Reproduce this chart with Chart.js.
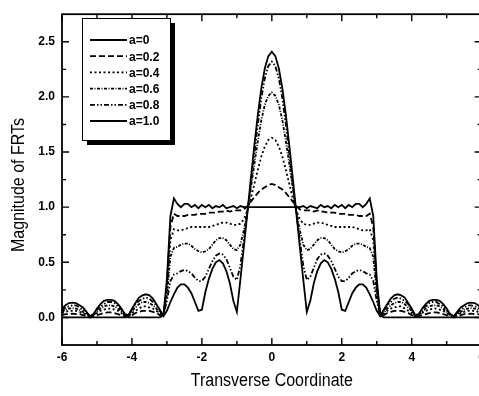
<!DOCTYPE html>
<html>
<head>
<meta charset="utf-8">
<script src="https://cdn.jsdelivr.net/npm/chart.js@4.4.0/dist/chart.umd.min.js"></script>
<style>
    html, body { margin: 0; padding: 0; background: #fff; overflow: hidden; }
    #wrap { position: absolute; left: 0; top: 0; width: 490px; height: 396px; }
</style>
</head>
<body>
<div id="wrap"><canvas id="myChart" width="490" height="396"></canvas></div>
<script>
// transverse coordinate samples
const xs = [
    -6.0, -5.9, -5.8, -5.7, -5.6, -5.5, -5.4, -5.3, -5.2, -5.1,
    -5.0, -4.9, -4.8, -4.7, -4.6, -4.5, -4.4, -4.3, -4.2, -4.1,
    -4.0, -3.9, -3.8, -3.7, -3.6, -3.5, -3.4, -3.3, -3.2, -3.1,
    -3.0, -2.9, -2.8, -2.7, -2.6, -2.5, -2.4, -2.3, -2.2, -2.1,
    -2.0, -1.9, -1.8, -1.7, -1.6, -1.5, -1.4, -1.3, -1.2, -1.1,
    -1.0, -0.9, -0.8, -0.7, -0.6, -0.5, -0.4, -0.3, -0.2, -0.1,
    0.0,
    0.1, 0.2, 0.3, 0.4, 0.5, 0.6, 0.7, 0.8, 0.9, 1.0,
    1.1, 1.2, 1.3, 1.4, 1.5, 1.6, 1.7, 1.8, 1.9, 2.0,
    2.1, 2.2, 2.3, 2.4, 2.5, 2.6, 2.7, 2.8, 2.9, 3.0,
    3.1, 3.2, 3.3, 3.4, 3.5, 3.6, 3.7, 3.8, 3.9, 4.0,
    4.1, 4.2, 4.3, 4.4, 4.5, 4.6, 4.7, 4.8, 4.9, 5.0,
    5.1, 5.2, 5.3, 5.4, 5.5, 5.6, 5.7, 5.8, 5.9, 6.0
];

const a00 = [
    0, 0, 0, 0, 0, 0, 0, 0, 0, 0,
    0, 0, 0, 0, 0, 0, 0, 0, 0, 0,
    0, 0, 0, 0, 0, 0, 0, 0, 0, 0.02,
    0.35, 0.92, 1.08, 1.03, 1.00, 1.03, 1.03, 1.00, 1.02, 0.99,
    1.02, 1.00, 1.02, 0.99, 1.01, 1.00, 1.02, 0.99, 1.00, 1.01,
    0.99, 1.01, 1.00, 1, 1, 1, 1, 1, 1, 1,
    1,
    1, 1, 1, 1, 1, 1, 1, 1.00, 1.01, 0.99,
    1.01, 1.00, 0.99, 1.02, 1.00, 1.01, 0.99, 1.02, 1.00, 1.02,
    0.99, 1.02, 1.00, 1.03, 1.03, 1.00, 1.03, 1.08, 0.92, 0.35,
    0.02, 0, 0, 0, 0, 0, 0, 0, 0, 0,
    0, 0, 0, 0, 0, 0, 0, 0, 0, 0,
    0, 0, 0, 0, 0, 0, 0, 0, 0, 0
];

const a02 = [
    0.02, 0.03, 0.03, 0.035, 0.03, 0.03, 0.02, 0.01, 0.00, 0.01,
    0.02, 0.03, 0.04, 0.045, 0.045, 0.04, 0.03, 0.02, 0.01, 0.01,
    0.02, 0.04, 0.05, 0.06, 0.06, 0.06, 0.05, 0.04, 0.02, 0.03,
    0.30, 0.82, 0.94, 0.92, 0.92, 0.92, 0.93, 0.93, 0.93, 0.94,
    0.94, 0.94, 0.95, 0.95, 0.95, 0.96, 0.96, 0.97, 0.96, 0.97,
    0.97, 0.97, 0.98, 1.01, 1.05, 1.09, 1.13, 1.16, 1.18, 1.20,
    1.21,
    1.20, 1.18, 1.16, 1.13, 1.09, 1.05, 1.01, 0.98, 0.97, 0.97,
    0.97, 0.96, 0.97, 0.96, 0.96, 0.95, 0.95, 0.95, 0.94, 0.94,
    0.94, 0.93, 0.93, 0.93, 0.92, 0.92, 0.92, 0.94, 0.82, 0.30,
    0.03, 0.02, 0.04, 0.05, 0.06, 0.06, 0.06, 0.05, 0.04, 0.02,
    0.01, 0.01, 0.02, 0.03, 0.04, 0.045, 0.045, 0.04, 0.03, 0.02,
    0.01, 0.00, 0.01, 0.02, 0.03, 0.03, 0.035, 0.03, 0.03, 0.02
];

const a04 = [
    0.04, 0.05, 0.06, 0.06, 0.06, 0.05, 0.04, 0.02, 0.01, 0.02,
    0.04, 0.06, 0.07, 0.08, 0.08, 0.07, 0.06, 0.04, 0.02, 0.01,
    0.04, 0.06, 0.08, 0.10, 0.10, 0.09, 0.08, 0.06, 0.03, 0.02,
    0.25, 0.70, 0.80, 0.79, 0.79, 0.80, 0.81, 0.82, 0.82, 0.82,
    0.82, 0.82, 0.82, 0.83, 0.84, 0.85, 0.86, 0.86, 0.85, 0.84,
    0.84, 0.85, 0.89, 0.97, 1.08, 1.21, 1.34, 1.46, 1.55, 1.61,
    1.63,
    1.61, 1.55, 1.46, 1.34, 1.21, 1.08, 0.97, 0.89, 0.85, 0.84,
    0.84, 0.85, 0.86, 0.86, 0.85, 0.84, 0.83, 0.82, 0.82, 0.82,
    0.82, 0.82, 0.82, 0.81, 0.80, 0.79, 0.79, 0.80, 0.70, 0.25,
    0.02, 0.03, 0.06, 0.08, 0.09, 0.10, 0.10, 0.08, 0.06, 0.04,
    0.01, 0.02, 0.04, 0.06, 0.07, 0.08, 0.08, 0.07, 0.06, 0.04,
    0.02, 0.01, 0.02, 0.04, 0.05, 0.06, 0.06, 0.06, 0.05, 0.04
];

const a06 = [
    0.05, 0.07, 0.08, 0.085, 0.08, 0.07, 0.05, 0.03, 0.01, 0.02,
    0.05, 0.08, 0.10, 0.11, 0.11, 0.10, 0.08, 0.05, 0.02, 0.01,
    0.06, 0.09, 0.12, 0.14, 0.14, 0.13, 0.11, 0.08, 0.04, 0.02,
    0.20, 0.55, 0.63, 0.64, 0.66, 0.67, 0.67, 0.65, 0.62, 0.60,
    0.59, 0.60, 0.62, 0.66, 0.70, 0.72, 0.72, 0.70, 0.66, 0.62,
    0.61, 0.66, 0.79, 0.96, 1.17, 1.39, 1.60, 1.79, 1.93, 2.01,
    2.04,
    2.01, 1.93, 1.79, 1.60, 1.39, 1.17, 0.96, 0.79, 0.66, 0.61,
    0.62, 0.66, 0.70, 0.72, 0.72, 0.70, 0.66, 0.62, 0.60, 0.59,
    0.60, 0.62, 0.65, 0.67, 0.67, 0.66, 0.64, 0.63, 0.55, 0.20,
    0.02, 0.04, 0.08, 0.11, 0.13, 0.14, 0.14, 0.12, 0.09, 0.06,
    0.01, 0.02, 0.05, 0.08, 0.10, 0.11, 0.11, 0.10, 0.08, 0.05,
    0.02, 0.01, 0.03, 0.05, 0.07, 0.08, 0.085, 0.08, 0.07, 0.05
];

const a08 = [
    0.06, 0.09, 0.10, 0.11, 0.11, 0.09, 0.07, 0.04, 0.01, 0.03,
    0.07, 0.10, 0.12, 0.14, 0.14, 0.13, 0.10, 0.07, 0.03, 0.02,
    0.07, 0.12, 0.15, 0.17, 0.18, 0.17, 0.14, 0.11, 0.06, 0.02,
    0.15, 0.33, 0.39, 0.40, 0.42, 0.43, 0.42, 0.40, 0.36, 0.33,
    0.33, 0.37, 0.44, 0.51, 0.56, 0.58, 0.57, 0.53, 0.45, 0.37,
    0.34, 0.47, 0.70, 0.95, 1.20, 1.48, 1.75, 1.99, 2.17, 2.28,
    2.32,
    2.28, 2.17, 1.99, 1.75, 1.48, 1.20, 0.95, 0.70, 0.47, 0.34,
    0.37, 0.45, 0.53, 0.57, 0.58, 0.56, 0.51, 0.44, 0.37, 0.33,
    0.33, 0.36, 0.40, 0.42, 0.43, 0.42, 0.40, 0.39, 0.33, 0.15,
    0.02, 0.06, 0.11, 0.14, 0.17, 0.18, 0.17, 0.15, 0.12, 0.07,
    0.02, 0.03, 0.07, 0.10, 0.13, 0.14, 0.14, 0.12, 0.10, 0.07,
    0.03, 0.01, 0.04, 0.07, 0.09, 0.11, 0.11, 0.10, 0.09, 0.06
];

const a10 = [
    0.08, 0.11, 0.13, 0.135, 0.13, 0.11, 0.09, 0.05, 0.01, 0.03,
    0.08, 0.12, 0.15, 0.16, 0.16, 0.15, 0.12, 0.08, 0.03, 0.02,
    0.08, 0.13, 0.18, 0.20, 0.21, 0.20, 0.17, 0.12, 0.07, 0.01,
    0.06, 0.14, 0.21, 0.27, 0.30, 0.30, 0.27, 0.22, 0.14, 0.06,
    0.07, 0.23, 0.35, 0.44, 0.50, 0.52, 0.49, 0.42, 0.31, 0.15,
    0.05, 0.34, 0.64, 0.95, 1.26, 1.56, 1.84, 2.08, 2.26, 2.37,
    2.41,
    2.37, 2.26, 2.08, 1.84, 1.56, 1.26, 0.95, 0.64, 0.34, 0.05,
    0.15, 0.31, 0.42, 0.49, 0.52, 0.50, 0.44, 0.35, 0.23, 0.07,
    0.06, 0.14, 0.22, 0.27, 0.30, 0.30, 0.27, 0.21, 0.14, 0.06,
    0.01, 0.07, 0.12, 0.17, 0.20, 0.21, 0.20, 0.18, 0.13, 0.08,
    0.02, 0.03, 0.08, 0.12, 0.15, 0.16, 0.16, 0.15, 0.12, 0.08,
    0.03, 0.01, 0.05, 0.09, 0.11, 0.13, 0.135, 0.13, 0.11, 0.08
];

const seriesNames = ['a=0', 'a=0.2', 'a=0.4', 'a=0.6', 'a=0.8', 'a=1.0'];
const seriesValues = [a00, a02, a04, a06, a08, a10];
const seriesDash = [[], [6, 3], [2, 2.5], [3, 1.5, 1, 1.5], [5, 2, 1.5, 2, 1.5, 2], []];

const xTicks = [-6, -4, -2, 0, 2, 4, 6];
const xMinor = [-5, -3, -1, 1, 3, 5];
const yTicks = [0, 0.5, 1.0, 1.5, 2.0, 2.5];
const yMinor = [0.25, 0.75, 1.25, 1.75, 2.25];

const FONT = "'Liberation Sans', Arial, sans-serif";

const datasets = seriesNames.map((name, i) => ({
    label: name,
    data: xs.map((x, j) => ({ x: x, y: seriesValues[i][j] })),
    borderColor: '#000',
    borderWidth: 1.8,
    borderDash: seriesDash[i],
    pointRadius: 0,
    tension: 0,
    fill: false
}));

// frame, inward ticks, axis titles and boxed legend
const decor = {
    id: 'decor',
    afterDraw(chart) {
        const ctx = chart.ctx;
        const a = chart.chartArea;
        const xs_ = chart.scales.x, ys_ = chart.scales.y;
        ctx.save();
        ctx.strokeStyle = '#000';
        ctx.lineWidth = 1.8;
        ctx.setLineDash([]);
        ctx.strokeRect(a.left, a.top, a.right - a.left, a.bottom - a.top);

        ctx.lineWidth = 1.4;
        const tickX = (v, len) => {
            const p = xs_.getPixelForValue(v);
            ctx.beginPath();
            ctx.moveTo(p, a.bottom); ctx.lineTo(p, a.bottom - len);
            ctx.moveTo(p, a.top); ctx.lineTo(p, a.top + len);
            ctx.stroke();
        };
        const tickY = (v, len) => {
            const p = ys_.getPixelForValue(v);
            ctx.beginPath();
            ctx.moveTo(a.left, p); ctx.lineTo(a.left + len, p);
            ctx.moveTo(a.right, p); ctx.lineTo(a.right - len, p);
            ctx.stroke();
        };
        xTicks.forEach(v => tickX(v, 7));
        xMinor.forEach(v => tickX(v, 4));
        yTicks.forEach(v => tickY(v, 7));
        yMinor.forEach(v => tickY(v, 4));

        // axis titles
        ctx.fillStyle = '#000';
        ctx.font = '16px ' + FONT;
        ctx.textAlign = 'center';
        ctx.textBaseline = 'middle';
        ctx.save();
        ctx.translate((a.left + a.right) / 2, 381);
        ctx.scale(1, 1.15);
        ctx.fillText('Transverse Coordinate', 0, 0);
        ctx.restore();
        ctx.save();
        ctx.translate(19, 185);
        ctx.rotate(-Math.PI / 2);
        ctx.scale(1, 1.15);
        ctx.fillText('Magnitude of FRTs', 0, 0);
        ctx.restore();

        // legend box with drop shadow
        const bx = 82, by = 18, bw = 88, bh = 122;
        ctx.fillStyle = '#000';
        ctx.fillRect(bx + 5, by + 5, bw, bh);
        ctx.fillStyle = '#fff';
        ctx.fillRect(bx, by, bw, bh);
        ctx.lineWidth = 1;
        ctx.strokeRect(bx + 0.5, by + 0.5, bw, bh);
        ctx.font = 'bold 12px ' + FONT;
        ctx.textAlign = 'left';
        ctx.fillStyle = '#000';
        chart.data.datasets.forEach((ds, i) => {
            const yy = 40 + i * 16.2;
            ctx.lineWidth = 1.8;
            ctx.setLineDash(ds.borderDash);
            ctx.beginPath();
            ctx.moveTo(90, yy); ctx.lineTo(127, yy);
            ctx.stroke();
            ctx.setLineDash([]);
            ctx.fillText(ds.label, 129, yy + 1);
        });
        ctx.restore();
    }
};

const config = {
    type: 'line',
    data: { datasets: datasets },
    options: {
        responsive: false,
        animation: false,
        layout: { padding: { top: 7, right: 8, left: 0, bottom: 0 } },
        scales: {
            x: {
                type: 'linear',
                min: -6,
                max: 6,
                grid: { display: false, drawTicks: false },
                border: { display: false },
                afterBuildTicks: s => { s.ticks = xTicks.map(v => ({ value: v })); },
                afterFit: s => { s.height = 51; },
                ticks: {
                    padding: 5,
                    color: '#000',
                    font: { family: FONT, size: 12, weight: 'bold' },
                    callback: v => String(v)
                }
            },
            y: {
                min: -0.25,
                max: 2.75,
                grid: { display: false, drawTicks: false },
                border: { display: false },
                afterBuildTicks: s => { s.ticks = yTicks.map(v => ({ value: v })); },
                afterFit: s => { s.width = 62; },
                ticks: {
                    padding: 7,
                    color: '#000',
                    font: { family: FONT, size: 12, weight: 'bold' },
                    callback: v => v.toFixed(1)
                }
            }
        },
        plugins: {
            legend: { display: false },
            tooltip: { enabled: false }
        }
    },
    plugins: [decor]
};

const myChart = new Chart(document.getElementById('myChart'), config);
</script>
</body>
</html>
